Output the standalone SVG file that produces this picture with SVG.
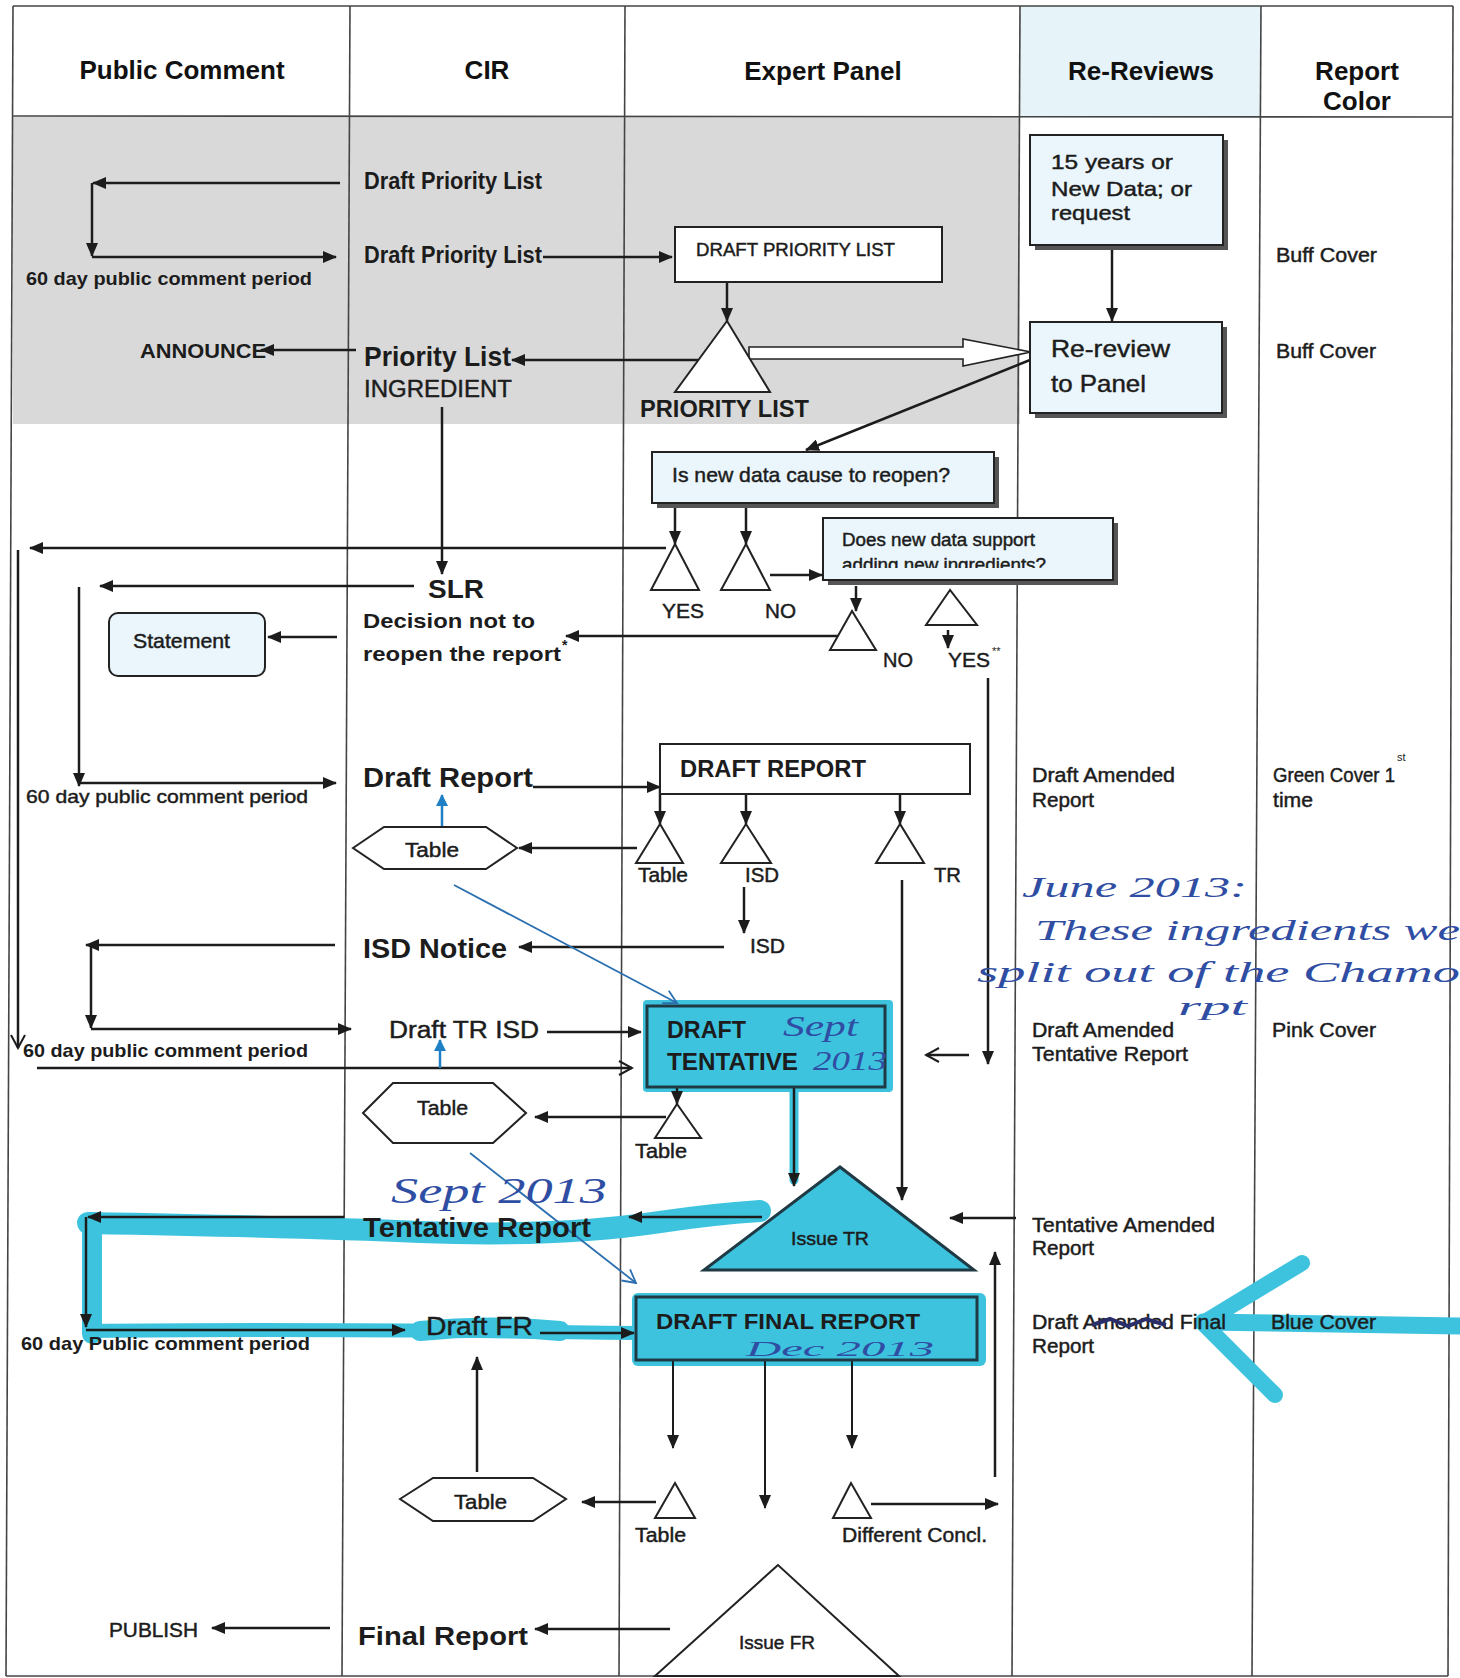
<svg xmlns="http://www.w3.org/2000/svg" width="1460" height="1678" viewBox="0 0 1460 1678">
<defs>
<style>
.t{font-family:"Liberation Sans",Arial,sans-serif;fill:#1c1c1c}
.b{font-weight:bold}
.m{stroke:#1c1c1c;stroke-width:0.45}
.h{font-family:"Liberation Sans",Arial,sans-serif;font-weight:bold;font-size:26px;fill:#111;text-anchor:middle}
.hw{font-family:"Liberation Serif","DejaVu Serif",serif;font-style:italic;fill:#2f4ea3}
.grid{stroke:#444;stroke-width:1.6;fill:none}
.c{stroke:#1c1c1c;stroke-width:2.5;fill:none}
.c2{stroke:#1c1c1c;stroke-width:2;fill:none}
.box{fill:#fff;stroke:#222;stroke-width:2}
.lb{fill:#eaf6fb;stroke:#222;stroke-width:2}
.sh{fill:#555}
.tri{fill:#fff;stroke:#222;stroke-width:2}
.cy{fill:#3ec3df}
.cys{stroke:#3ec3df;fill:none;stroke-linecap:round;stroke-linejoin:round}
.pen{stroke:#2b6fb0;stroke-width:1.8;fill:none}
</style>
<marker id="ah" markerUnits="userSpaceOnUse" markerWidth="14" markerHeight="12" refX="13" refY="6" orient="auto"><path d="M0,0 L14,6 L0,12 z" fill="#1c1c1c"/></marker>
<marker id="ao" markerUnits="userSpaceOnUse" markerWidth="16" markerHeight="16" refX="14" refY="8" orient="auto"><path d="M1,1 L14,8 L1,15" fill="none" stroke="#1c1c1c" stroke-width="2"/></marker>
<marker id="ab" markerUnits="userSpaceOnUse" markerWidth="12" markerHeight="12" refX="11" refY="6" orient="auto"><path d="M0,0 L12,6 L0,12 z" fill="#1f7fc4"/></marker>
<marker id="ap" markerUnits="userSpaceOnUse" markerWidth="16" markerHeight="16" refX="14" refY="8" orient="auto"><path d="M1,1 L14,8 L1,15" fill="none" stroke="#2b6fb0" stroke-width="1.8"/></marker>
<clipPath id="clipAdd"><rect x="823" y="518" width="300" height="50"/></clipPath>
</defs>

<rect x="0" y="0" width="1460" height="1678" fill="#fff"/>

<g id="table">
<rect x="13" y="117" width="1007" height="307" fill="#d9d9d9"/>
<polygon points="1020,6 1261,6 1261,116 1020,116" fill="#e6f3f8"/>
<line class="grid" x1="13" y1="6" x2="1453" y2="6"/>
<line class="grid" x1="13" y1="116" x2="1453" y2="117"/>
<line class="grid" x1="6" y1="1676" x2="1448" y2="1676"/>
<line class="grid" x1="13" y1="6" x2="6" y2="1676"/>
<line class="grid" x1="350" y1="6" x2="342" y2="1676"/>
<line class="grid" x1="625" y1="6" x2="619" y2="1676"/>
<line class="grid" x1="1020" y1="6" x2="1012" y2="1676"/>
<line class="grid" x1="1261" y1="6" x2="1252" y2="1676"/>
<line class="grid" x1="1453" y1="6" x2="1448" y2="1676"/>
<text class="h" x="182" y="79">Public Comment</text>
<text class="h" x="487" y="79">CIR</text>
<text class="h" x="823" y="80">Expert Panel</text>
<text class="h" x="1141" y="80">Re-Reviews</text>
<text class="h" x="1357" y="80">Report</text>
<text class="h" x="1357" y="110">Color</text>
</g>

<g id="highlights">
<path class="cys" d="M88,1223 C200,1225 330,1228 420,1232 C520,1236 600,1231 660,1222 C700,1216 730,1213 760,1211" stroke-width="22"/>
<path class="cys" d="M92,1222 L92,1334" stroke-width="20"/>
<path class="cys" d="M90,1331 C250,1329 420,1330 640,1333" stroke-width="14"/>
<path class="cys" d="M420,1331 C470,1326 520,1327 560,1331" stroke-width="20"/>
<path class="cys" d="M794,1086 L794,1180" stroke-width="9"/>
<rect x="632" y="1293" width="354" height="73" rx="6" class="cy"/>
<rect x="643" y="1000" width="250" height="92" rx="4" class="cy"/>
<path class="cys" d="M1302,1263 L1203,1323 L1275,1395" stroke-width="16"/>
<path class="cys" d="M1203,1322 L1460,1326" stroke-width="17"/>
</g>

<g id="connectors">
<line class="c" x1="340" y1="183" x2="93" y2="183" marker-end="url(#ah)"/>
<line class="c" x1="92" y1="183" x2="92" y2="256" marker-end="url(#ah)"/>
<line class="c" x1="92" y1="257" x2="336" y2="257" marker-end="url(#ah)"/>
<line class="c" x1="543" y1="257" x2="672" y2="257" marker-end="url(#ah)"/>
<line class="c" x1="727" y1="282" x2="727" y2="321" marker-end="url(#ah)"/>
<line class="c" x1="698" y1="360" x2="512" y2="360" marker-end="url(#ah)"/>
<line class="c" x1="356" y1="350" x2="261" y2="350" marker-end="url(#ah)"/>
<polygon points="749,347 963,347 963,339 1031,352 963,366 963,359 749,359" fill="#fff" stroke="#222" stroke-width="1.6"/>
<line class="c" x1="1112" y1="245" x2="1112" y2="321" marker-end="url(#ah)"/>
<line class="c" x1="1030" y1="360" x2="806" y2="450" marker-end="url(#ah)"/>
<line class="c" x1="675" y1="505" x2="675" y2="544" marker-end="url(#ah)"/>
<line class="c" x1="746" y1="505" x2="746" y2="544" marker-end="url(#ah)"/>
<line class="c" x1="666" y1="548" x2="30" y2="548" marker-end="url(#ah)"/>
<line class="c" x1="18" y1="550" x2="18" y2="1048" marker-end="url(#ao)"/>
<line class="c" x1="770" y1="575" x2="822" y2="575" marker-end="url(#ah)"/>
<line class="c" x1="856" y1="586" x2="856" y2="611" marker-end="url(#ah)"/>
<line class="c" x1="948" y1="630" x2="948" y2="648" marker-end="url(#ah)"/>
<line class="c" x1="838" y1="636" x2="566" y2="636" marker-end="url(#ah)"/>
<line class="c" x1="988" y1="678" x2="988" y2="1064" marker-end="url(#ah)"/>
<line class="c" x1="969" y1="1055" x2="926" y2="1055" marker-end="url(#ao)"/>
<line class="c" x1="442" y1="407" x2="442" y2="574" marker-end="url(#ah)"/>
<line class="c" x1="414" y1="586" x2="100" y2="586" marker-end="url(#ah)"/>
<line class="c" x1="79" y1="587" x2="79" y2="786" marker-end="url(#ah)"/>
<line class="c" x1="79" y1="783" x2="336" y2="783" marker-end="url(#ah)"/>
<line class="c" x1="337" y1="637" x2="268" y2="637" marker-end="url(#ah)"/>
<line class="c" x1="533" y1="787" x2="660" y2="787" marker-end="url(#ah)"/>
<line class="c" x1="660" y1="787" x2="660" y2="824" marker-end="url(#ah)"/>
<line class="c" x1="746" y1="794" x2="746" y2="824" marker-end="url(#ah)"/>
<line class="c" x1="900" y1="794" x2="900" y2="824" marker-end="url(#ah)"/>
<line class="c" x1="637" y1="848" x2="519" y2="848" marker-end="url(#ah)"/>
<line stroke="#1f7fc4" stroke-width="2.5" x1="442" y1="827" x2="442" y2="795" marker-end="url(#ab)"/>
<line class="c" x1="744" y1="887" x2="744" y2="933" marker-end="url(#ah)"/>
<line class="c" x1="724" y1="947" x2="519" y2="947" marker-end="url(#ah)"/>
<line class="c" x1="335" y1="945" x2="86" y2="945" marker-end="url(#ah)"/>
<line class="c" x1="91" y1="945" x2="91" y2="1028" marker-end="url(#ah)"/>
<line class="c" x1="91" y1="1029" x2="351" y2="1029" marker-end="url(#ah)"/>
<line class="c" x1="547" y1="1032" x2="641" y2="1032" marker-end="url(#ah)"/>
<line class="c" x1="37" y1="1068" x2="632" y2="1068" marker-end="url(#ao)"/>
<line stroke="#1f7fc4" stroke-width="2.5" x1="440" y1="1068" x2="440" y2="1040" marker-end="url(#ab)"/>
<line class="c" x1="677" y1="1087" x2="677" y2="1104" marker-end="url(#ah)"/>
<line class="c" x1="666" y1="1117" x2="535" y2="1117" marker-end="url(#ah)"/>
<line class="c" x1="794" y1="1087" x2="794" y2="1186" marker-end="url(#ah)"/>
<line class="c" x1="902" y1="880" x2="902" y2="1200" marker-end="url(#ah)"/>
<line class="c" x1="1016" y1="1218" x2="950" y2="1218" marker-end="url(#ah)"/>
<line class="c" x1="762" y1="1217" x2="629" y2="1217" marker-end="url(#ah)"/>
<line class="c" x1="344" y1="1217" x2="88" y2="1217" marker-end="url(#ah)"/>
<line class="c" x1="86" y1="1217" x2="86" y2="1327" marker-end="url(#ah)"/>
<line class="c" x1="86" y1="1330" x2="405" y2="1330" marker-end="url(#ah)"/>
<line class="c" x1="540" y1="1333" x2="634" y2="1333" marker-end="url(#ah)"/>
<line class="c" x1="995" y1="1477" x2="995" y2="1252" marker-end="url(#ah)"/>
<line class="c2" x1="673" y1="1360" x2="673" y2="1448" marker-end="url(#ah)"/>
<line class="c2" x1="765" y1="1360" x2="765" y2="1508" marker-end="url(#ah)"/>
<line class="c2" x1="852" y1="1360" x2="852" y2="1448" marker-end="url(#ah)"/>
<line class="c" x1="871" y1="1504" x2="998" y2="1504" marker-end="url(#ah)"/>
<line class="c" x1="656" y1="1502" x2="582" y2="1502" marker-end="url(#ah)"/>
<line class="c" x1="477" y1="1472" x2="477" y2="1357" marker-end="url(#ah)"/>
<line class="c" x1="670" y1="1629" x2="535" y2="1629" marker-end="url(#ah)"/>
<line class="c" x1="330" y1="1628" x2="212" y2="1628" marker-end="url(#ah)"/>
<line class="pen" x1="454" y1="885" x2="677" y2="1003" marker-end="url(#ap)"/>
<line class="pen" x1="470" y1="1153" x2="636" y2="1283" marker-end="url(#ap)"/>
</g>

<g id="n-pc-labels">
<text class="t b" x="26" y="285" font-size="19" textLength="286" lengthAdjust="spacingAndGlyphs">60 day public comment period</text>
<text class="t b" x="140" y="358" font-size="21" textLength="126" lengthAdjust="spacingAndGlyphs">ANNOUNCE</text>
<text class="t m" x="26" y="803" font-size="19" textLength="282" lengthAdjust="spacingAndGlyphs">60 day public comment period</text>
<text class="t b" x="23" y="1057" font-size="19" textLength="285" lengthAdjust="spacingAndGlyphs">60 day public comment period</text>
<text class="t b" x="21" y="1350" font-size="19" textLength="289" lengthAdjust="spacingAndGlyphs">60 day Public comment period</text>
<text class="t m" x="109" y="1637" font-size="20" textLength="89" lengthAdjust="spacingAndGlyphs">PUBLISH</text>
</g>

<g id="n-statement">
<rect x="109" y="613" width="156" height="63" rx="9" class="lb"/>
<text class="t m" x="133" y="648" font-size="21" textLength="97" lengthAdjust="spacingAndGlyphs">Statement</text>
</g>

<g id="n-cir-labels">
<text class="t b" x="364" y="189" font-size="23" textLength="178" lengthAdjust="spacingAndGlyphs">Draft Priority List</text>
<text class="t b" x="364" y="263" font-size="23" textLength="178" lengthAdjust="spacingAndGlyphs">Draft Priority List</text>
<text class="t b" x="364" y="366" font-size="28" textLength="147" lengthAdjust="spacingAndGlyphs">Priority List</text>
<text class="t m" x="364" y="397" font-size="23" textLength="148" lengthAdjust="spacingAndGlyphs">INGREDIENT</text>
<text class="t b" x="428" y="598" font-size="26" textLength="56" lengthAdjust="spacingAndGlyphs">SLR</text>
<text class="t b" x="363" y="628" font-size="21" textLength="172" lengthAdjust="spacingAndGlyphs">Decision not to</text>
<text class="t b" x="363" y="661" font-size="21" textLength="198" lengthAdjust="spacingAndGlyphs">reopen the report</text>
<text class="t b" x="562" y="650" font-size="14">*</text>
<text class="t b" x="363" y="787" font-size="27" textLength="170" lengthAdjust="spacingAndGlyphs">Draft Report</text>
<text class="t b" x="363" y="958" font-size="27" textLength="144" lengthAdjust="spacingAndGlyphs">ISD Notice</text>
<text class="t m" x="389" y="1038" font-size="23" textLength="150" lengthAdjust="spacingAndGlyphs">Draft TR ISD</text>
<text class="t b" x="363" y="1237" font-size="27" textLength="228" lengthAdjust="spacingAndGlyphs">Tentative Report</text>
<text class="t m" x="426" y="1335" font-size="25" textLength="107" lengthAdjust="spacingAndGlyphs">Draft FR</text>
<text class="t b" x="358" y="1645" font-size="26" textLength="170" lengthAdjust="spacingAndGlyphs">Final Report</text>
</g>

<g id="n-table1">
<polygon class="box" points="353,848 384,827 486,827 517,848 486,869 384,869"/>
<text class="t m" x="405" y="857" font-size="20" textLength="54" lengthAdjust="spacingAndGlyphs">Table</text>
</g>
<g id="n-table2">
<polygon class="box" points="363,1113 393,1083 493,1083 526,1113 493,1143 393,1143"/>
<text class="t m" x="417" y="1115" font-size="20" textLength="51" lengthAdjust="spacingAndGlyphs">Table</text>
</g>
<g id="n-table3">
<polygon class="box" points="400,1499 433,1478 533,1478 566,1499 533,1521 433,1521"/>
<text class="t m" x="454" y="1509" font-size="20" textLength="53" lengthAdjust="spacingAndGlyphs">Table</text>
</g>

<g id="n-draft-priority-list">
<rect x="675" y="227" width="267" height="55" class="box"/>
<text class="t m" x="696" y="256" font-size="19" textLength="199" lengthAdjust="spacingAndGlyphs">DRAFT PRIORITY LIST</text>
</g>
<g id="n-priority-list">
<polygon class="tri" points="727,321 675,392 770,392"/>
<text class="t b" x="640" y="417" font-size="23" textLength="169" lengthAdjust="spacingAndGlyphs">PRIORITY LIST</text>
</g>

<g id="n-reopen">
<rect x="657" y="457" width="342" height="51" class="sh"/>
<rect x="652" y="452" width="342" height="51" class="lb"/>
<text class="t m" x="672" y="482" font-size="21" textLength="278" lengthAdjust="spacingAndGlyphs">Is new data cause to reopen?</text>
</g>
<g id="n-yes1">
<polygon class="tri" points="675,544 651,590 699,590"/>
<text class="t m" x="662" y="618" font-size="21" textLength="42" lengthAdjust="spacingAndGlyphs">YES</text>
</g>
<g id="n-no1">
<polygon class="tri" points="746,544 721,590 770,590"/>
<text class="t m" x="765" y="618" font-size="21" textLength="31" lengthAdjust="spacingAndGlyphs">NO</text>
</g>
<g id="n-support">
<rect x="828" y="523" width="290" height="62" class="sh"/>
<rect x="823" y="518" width="290" height="62" class="lb"/>
<text class="t m" x="842" y="546" font-size="18" textLength="193" lengthAdjust="spacingAndGlyphs">Does new data support</text>
<text class="t m" x="842" y="571" font-size="18" textLength="204" lengthAdjust="spacingAndGlyphs" clip-path="url(#clipAdd)">adding new ingredients?</text>
</g>
<g id="n-no2">
<polygon class="tri" points="852,611 830,650 876,650"/>
<text class="t m" x="883" y="667" font-size="21" textLength="30" lengthAdjust="spacingAndGlyphs">NO</text>
</g>
<g id="n-yes2">
<polygon class="tri" points="950,590 926,625 977,625"/>
<text class="t m" x="948" y="667" font-size="21" textLength="42" lengthAdjust="spacingAndGlyphs">YES</text>
<text class="t" x="992" y="655" font-size="11">**</text>
</g>

<g id="n-draft-report">
<rect x="660" y="744" width="310" height="50" class="box"/>
<text class="t b" x="680" y="777" font-size="23" textLength="186" lengthAdjust="spacingAndGlyphs">DRAFT REPORT</text>
</g>
<g id="n-tri-table1">
<polygon class="tri" points="660,824 636,863 683,863"/>
<text class="t m" x="638" y="882" font-size="20" textLength="50" lengthAdjust="spacingAndGlyphs">Table</text>
</g>
<g id="n-tri-isd">
<polygon class="tri" points="746,824 721,863 771,863"/>
<text class="t m" x="745" y="882" font-size="20" textLength="34" lengthAdjust="spacingAndGlyphs">ISD</text>
<text class="t m" x="750" y="953" font-size="20" textLength="35" lengthAdjust="spacingAndGlyphs">ISD</text>
</g>
<g id="n-tri-tr">
<polygon class="tri" points="900,824 876,863 924,863"/>
<text class="t m" x="934" y="882" font-size="20" textLength="27" lengthAdjust="spacingAndGlyphs">TR</text>
</g>

<g id="n-draft-tentative">
<rect x="647" y="1006" width="238" height="81" fill="none" stroke="#1f3a44" stroke-width="3"/>
<text class="t b" x="667" y="1038" font-size="23" textLength="79" lengthAdjust="spacingAndGlyphs">DRAFT</text>
<text class="t b" x="667" y="1070" font-size="23" textLength="131" lengthAdjust="spacingAndGlyphs">TENTATIVE</text>
<text class="hw" x="783" y="1036" font-size="30" textLength="75" lengthAdjust="spacingAndGlyphs">Sept</text>
<text class="hw" x="813" y="1070" font-size="28" textLength="74" lengthAdjust="spacingAndGlyphs">2013</text>
</g>
<g id="n-tri-table2">
<polygon class="tri" points="677,1104 655,1138 701,1138"/>
<text class="t m" x="635" y="1158" font-size="20" textLength="52" lengthAdjust="spacingAndGlyphs">Table</text>
</g>

<g id="n-issue-tr">
<polygon points="840,1167 704,1270 974,1270" class="cy" stroke="#1f3a44" stroke-width="3"/>
<text class="t m" x="791" y="1245" font-size="18" textLength="78" lengthAdjust="spacingAndGlyphs">Issue  TR</text>
</g>
<text class="hw" x="391" y="1203" font-size="36" textLength="216" lengthAdjust="spacingAndGlyphs">Sept 2013</text>

<g id="n-draft-final">
<rect x="636" y="1297" width="341" height="63" fill="none" stroke="#1f3a44" stroke-width="3"/>
<text class="t b" x="656" y="1329" font-size="22" textLength="264" lengthAdjust="spacingAndGlyphs">DRAFT FINAL REPORT</text>
<text class="hw" x="746" y="1356" font-size="22" textLength="188" lengthAdjust="spacingAndGlyphs">Dec 2013</text>
</g>
<g id="n-tri-table3">
<polygon class="tri" points="675,1483 655,1518 695,1518"/>
<text class="t m" x="635" y="1542" font-size="20" textLength="51" lengthAdjust="spacingAndGlyphs">Table</text>
</g>
<g id="n-tri-diff">
<polygon class="tri" points="851,1483 833,1518 871,1518"/>
<text class="t m" x="842" y="1542" font-size="20" textLength="145" lengthAdjust="spacingAndGlyphs">Different Concl.</text>
</g>
<g id="n-issue-fr">
<polygon class="tri" points="778,1565 655,1676 899,1676"/>
<text class="t m" x="739" y="1649" font-size="18" textLength="76" lengthAdjust="spacingAndGlyphs">Issue  FR</text>
</g>

<g id="n-15years">
<rect x="1035" y="140" width="193" height="110" class="sh"/>
<rect x="1030" y="135" width="193" height="110" class="lb"/>
<text class="t m" x="1051" y="169" font-size="21" textLength="122" lengthAdjust="spacingAndGlyphs">15 years or</text>
<text class="t m" x="1051" y="196" font-size="21" textLength="141" lengthAdjust="spacingAndGlyphs">New Data; or</text>
<text class="t m" x="1051" y="220" font-size="21" textLength="79" lengthAdjust="spacingAndGlyphs">request</text>
</g>
<g id="n-rereview">
<rect x="1035" y="327" width="192" height="91" class="sh"/>
<rect x="1030" y="322" width="192" height="91" class="lb"/>
<text class="t m" x="1051" y="357" font-size="24" textLength="119" lengthAdjust="spacingAndGlyphs">Re-review</text>
<text class="t m" x="1051" y="392" font-size="24" textLength="95" lengthAdjust="spacingAndGlyphs">to Panel</text>
</g>

<g id="n-rr-labels">
<text class="t m" x="1032" y="782" font-size="20" textLength="143" lengthAdjust="spacingAndGlyphs">Draft Amended</text>
<text class="t m" x="1032" y="807" font-size="20" textLength="62" lengthAdjust="spacingAndGlyphs">Report</text>
<text class="t m" x="1032" y="1037" font-size="20" textLength="142" lengthAdjust="spacingAndGlyphs">Draft Amended</text>
<text class="t m" x="1032" y="1061" font-size="20" textLength="156" lengthAdjust="spacingAndGlyphs">Tentative Report</text>
<text class="t m" x="1032" y="1232" font-size="20" textLength="183" lengthAdjust="spacingAndGlyphs">Tentative Amended</text>
<text class="t m" x="1032" y="1255" font-size="20" textLength="62" lengthAdjust="spacingAndGlyphs">Report</text>
<text class="t m" x="1032" y="1329" font-size="20" textLength="194" lengthAdjust="spacingAndGlyphs">Draft Amended Final</text>
<text class="t m" x="1032" y="1353" font-size="20" textLength="62" lengthAdjust="spacingAndGlyphs">Report</text>
<path d="M1092,1325 L1110,1319 L1128,1326 L1146,1319 L1166,1325" stroke="#2a2f6a" stroke-width="4" fill="none"/>
</g>

<g id="n-color-labels">
<text class="t m" x="1276" y="262" font-size="20" textLength="101" lengthAdjust="spacingAndGlyphs">Buff Cover</text>
<text class="t m" x="1276" y="358" font-size="20" textLength="100" lengthAdjust="spacingAndGlyphs">Buff Cover</text>
<text class="t m" x="1273" y="782" font-size="20" textLength="122" lengthAdjust="spacingAndGlyphs">Green Cover 1</text>
<text class="t" x="1397" y="761" font-size="11">st</text>
<text class="t m" x="1273" y="807" font-size="20" textLength="40" lengthAdjust="spacingAndGlyphs">time</text>
<text class="t m" x="1272" y="1037" font-size="20" textLength="104" lengthAdjust="spacingAndGlyphs">Pink Cover</text>
<text class="t m" x="1271" y="1329" font-size="20" textLength="105" lengthAdjust="spacingAndGlyphs">Blue Cover</text>
</g>

<g id="n-note">
<text class="hw" x="1022" y="897" font-size="30" textLength="225" lengthAdjust="spacingAndGlyphs">June 2013:</text>
<text class="hw" x="1035" y="940" font-size="30" textLength="425" lengthAdjust="spacingAndGlyphs">These ingredients we</text>
<text class="hw" x="977" y="982" font-size="30" textLength="483" lengthAdjust="spacingAndGlyphs">split out of the Chamo</text>
<text class="hw" x="1178" y="1015" font-size="26" textLength="69" lengthAdjust="spacingAndGlyphs">rpt</text>
</g>
</svg>
